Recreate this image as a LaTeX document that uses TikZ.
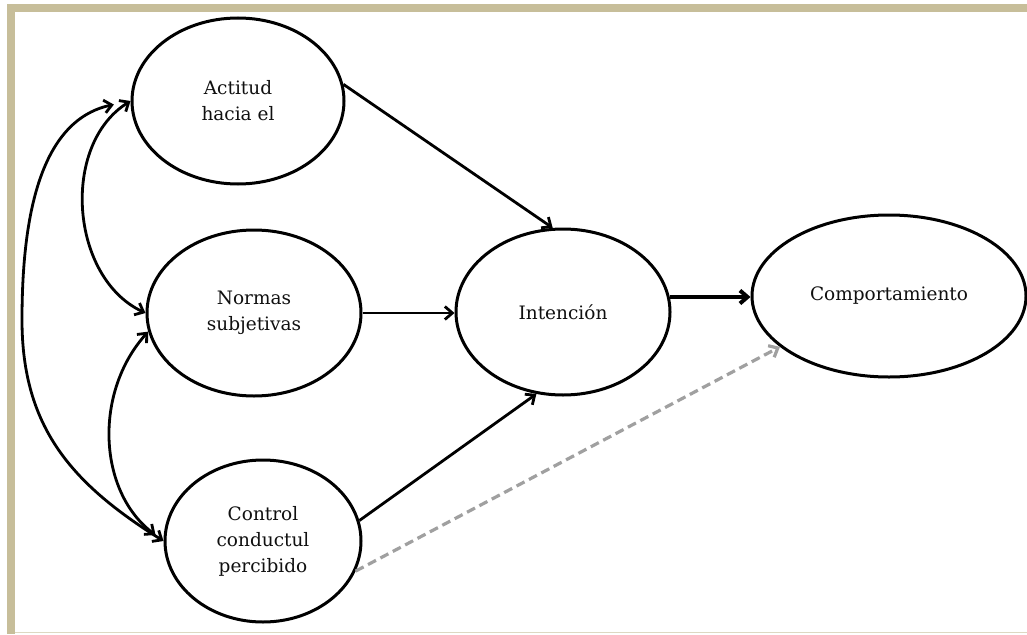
\documentclass[tikz,border=0pt]{standalone}
\usepackage{fontspec}
\setmainfont{DejaVu Serif}
\usetikzlibrary{arrows.meta,shapes.geometric}
\definecolor{framecol}{HTML}{C7BE9A}
\definecolor{dashgray}{HTML}{A0A0A0}
\definecolor{txt}{HTML}{101010}
\tikzset{
  >={Straight Barb[length=7.5pt,width=13pt]},
  oval/.style={ellipse, draw=black, line width=3pt, inner sep=0pt, align=center,
    text=txt, font=\fontsize{18.5}{26}\selectfont},
  link/.style={line width=2.8pt, ->},
  thicklink/.style={line width=4pt, ->},
  bilink/.style={line width=2.8pt, <->},
  dashlink/.style={line width=3.2pt, dashgray, dash pattern=on 9pt off 5pt, ->}
}
\begin{document}
\begin{tikzpicture}[x=1pt,y=-1pt]
\useasboundingbox (0,0) rectangle (1027,634);
\fill[white] (0,0) rectangle (1027,634);
% frame
\fill[framecol] (7,4) rectangle (1027,12);
\fill[framecol] (7,4) rectangle (15,634);
\draw[framecol!60, line width=0.8pt] (15,632.5) -- (1027,632.5);
% nodes
\node[oval, minimum width=212pt, minimum height=166pt] (act) at (238,101) {Actitud\\hacia el};
\node[oval, minimum width=214pt, minimum height=166pt] (nor) at (254,313) {Normas\\subjetivas};
\node[oval, minimum width=196pt, minimum height=162pt] (ctl) at (263,541) {Control\\conductul\\percibido};
\node[oval, minimum width=214pt, minimum height=166pt] (int) at (563,312) {Intención};
\node[oval, minimum width=274pt, minimum height=162pt] (com) at (889,296) {Comportamiento};
% straight connectors
\draw[link] (act.9) -- (int.97);
\draw[link] (nor.east) -- (nor.east -| int.west);
\draw[link] (ctl.12) -- (int.252);
\draw[thicklink] (int.8) -- (int.8 -| com.west);
\draw[dashlink] (ctl.-18) -- (com.205);
% curved bidirectional connectors
\coordinate (wo) at (22,320);
\draw[bilink, shorten <=17pt] (act.west) to[out=192,in=90,looseness=1] (wo) to[out=-90,in=148,looseness=1.05] (ctl.west);
\draw[bilink] (act.west) to[out=212,in=155] (nor.west);
\draw[bilink, shorten >=10pt] (nor.190) to[out=228,in=143] (ctl.west);
\end{tikzpicture}
\end{document}
